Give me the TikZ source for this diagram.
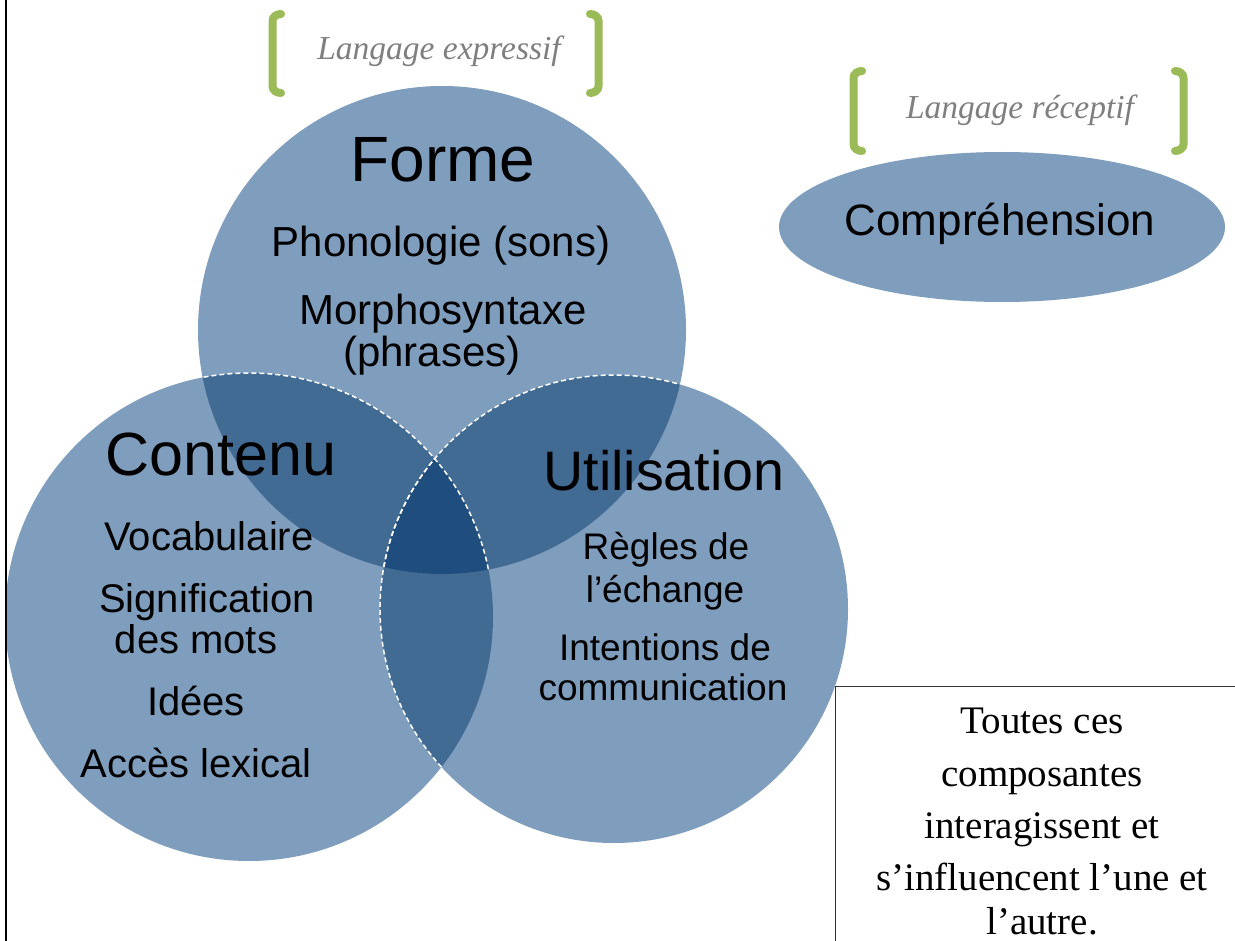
\documentclass[tikz,border=0pt]{standalone}
\usepackage{fontspec}
\setmainfont{Liberation Sans}
\newfontfamily\serifc{Liberation Serif}
\definecolor{single}{HTML}{7F9DBD}
\definecolor{dbl}{HTML}{426B94}
\definecolor{trip}{HTML}{1F4E7E}
\definecolor{brk}{HTML}{9BBB59}
\definecolor{lbl}{HTML}{7F7F7F}
\tikzset{
  wdash/.style={draw=white, line width=1.5pt, dash pattern=on 5pt off 3pt},
  brack/.style={draw=brk, line width=8pt, line cap=round},
  title/.style={anchor=base, text=black, inner sep=0pt},
  itl/.style={anchor=base, text=lbl, inner sep=0pt, font=\serifc\itshape\fontsize{33.5}{33.5}\selectfont},
  boxtxt/.style={anchor=base, text=black, inner sep=0pt, font=\serifc\fontsize{39}{39}\selectfont},
}
\newcommand{\fs}[1]{\fontsize{#1}{#1}\selectfont}
\begin{document}
\begin{tikzpicture}[x=1pt,y=-1pt]
\useasboundingbox (0,0) rectangle (1235,941);
\fill[white] (0,0) rectangle (1235,941);
\coordinate (cF) at (442,330);
\coordinate (cC) at (249,617);
\coordinate (cU) at (614,609);
\def\rF{244pt}\def\rC{244pt}\def\rU{234pt}
% single fills
\fill[single] (cF) circle[radius=\rF];
\fill[single] (cC) circle[radius=\rC];
\fill[single] (cU) circle[radius=\rU];
% double overlaps
\begin{scope}
  \clip (cF) circle[radius=\rF];
  \fill[dbl] (cC) circle[radius=\rC];
  \fill[dbl] (cU) circle[radius=\rU];
\end{scope}
\begin{scope}
  \clip (cC) circle[radius=\rC];
  \fill[dbl] (cU) circle[radius=\rU];
\end{scope}
% triple overlap
\begin{scope}
  \clip (cF) circle[radius=\rF];
  \clip (cC) circle[radius=\rC];
  \fill[trip] (cU) circle[radius=\rU];
\end{scope}
% dashed white borders
\begin{scope}
  \clip (cF) circle[radius=\rF];
  \draw[wdash] (cC) circle[radius=\rC];
  \draw[wdash] (cU) circle[radius=\rU];
\end{scope}
\begin{scope}
  \clip (cC) circle[radius=\rC];
  \draw[wdash] (cU) circle[radius=\rU];
\end{scope}
% ellipse
\fill[single] (1002,227) ellipse[x radius=223pt, y radius=75pt];
% left page rule
\draw[black, line width=2pt] (6,0) -- (6,941);
% brackets
\draw[brack] (281,14) to[out=180,in=90] (272.5,21) -- (272.5,86) to[out=-90,in=180] (281,93);
\draw[brack] (590,14) to[out=0,in=90] (598.5,21) -- (598.5,86) to[out=-90,in=0] (590,93);
\draw[brack] (862,71) to[out=180,in=90] (853.5,78) -- (853.5,144) to[out=-90,in=180] (862,151);
\draw[brack] (1175,71) to[out=0,in=90] (1183.5,78) -- (1183.5,144) to[out=-90,in=0] (1175,151);
\node[itl] (expr) at (439,60) {Langage expressif};
\node[itl] (recep) at (1020,119) {Langage réceptif};
% Forme
\node[title, font=\fs{64}] (forme) at (443,182) {Forme};
\node[title, font=\fs{42}] (phono) at (441,257) {Phonologie (sons)};
\node[title, font=\fs{42}] (morpho) at (443,325) {Morphosyntaxe};
\node[title, font=\fs{42}] (phr) at (432,367) {(phrases)};
% Contenu
\node[title, font=\fs{61}] (contenu) at (221,475) {Contenu};
\node[title, font=\fs{40}] (voc) at (209,550) {Vocabulaire};
\node[title, font=\fs{40}] (sig) at (207,612) {Signification};
\node[title, font=\fs{40}] (mots) at (196,653) {des mots};
\node[title, font=\fs{40}] (idees) at (196,715) {Idées};
\node[title, font=\fs{40}] (acces) at (196,777) {Accès lexical};
% Utilisation
\node[title, font=\fs{55.6}] (util) at (664,490) {Utilisation};
\node[title, font=\fs{37}] (regles) at (666,559) {Règles de};
\node[title, font=\fs{37}] (echange) at (665,602) {l’échange};
\node[title, font=\fs{37}] (intent) at (665,660) {Intentions de};
\node[title, font=\fs{37}] (comm) at (663,700) {communication};
% Compréhension
\node[title, font=\fs{44}] (compr) at (1000,236) {Compréhension};
% text box
\draw[black!80, line width=1pt] (1236,686) -- (835,686) -- (835,942);
\node[boxtxt] (b1) at (1042,733) {Toutes ces};
\node[boxtxt] (b2) at (1042,786) {composantes};
\node[boxtxt] (b3) at (1042,838) {interagissent et};
\node[boxtxt] (b4) at (1042,890) {s’influencent l’une et};
\node[boxtxt] (b5) at (1042,934) {l’autre.};
\end{tikzpicture}
\end{document}
